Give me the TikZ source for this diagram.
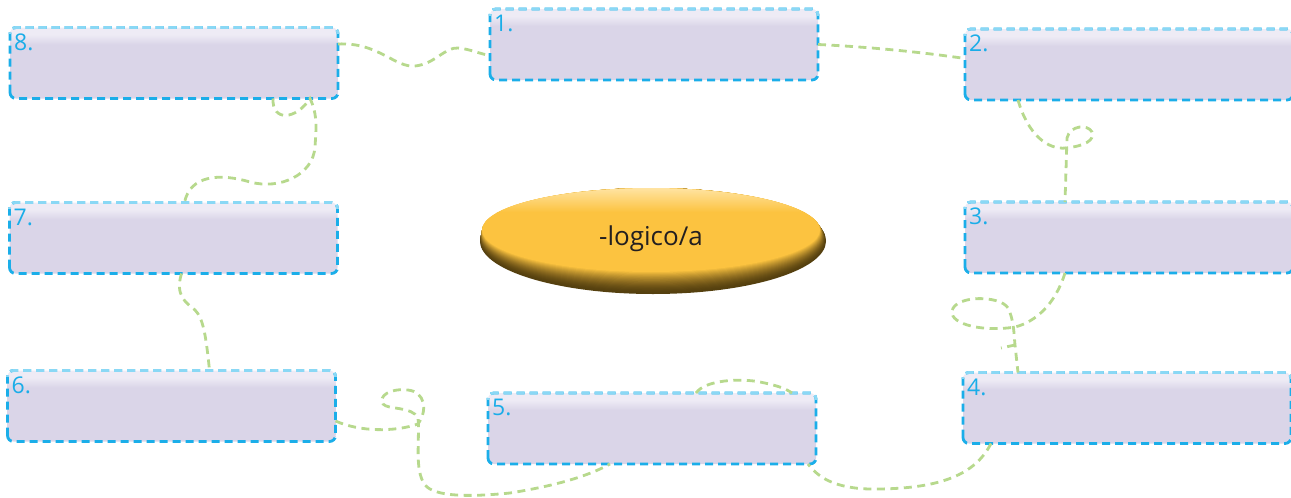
\documentclass[tikz,border=0pt]{standalone}
\usepackage{fontspec}
\setmainfont{Open Sans}
\usetikzlibrary{shapes.geometric}

\definecolor{boxfill}{HTML}{DAD5E8}
\definecolor{boxtop}{HTML}{EEEBF5}
\definecolor{rimblue}{HTML}{1BAEE9}
\definecolor{rimlight}{HTML}{8AD8F5}
\definecolor{numblue}{HTML}{1AADE8}
\definecolor{trailgreen}{HTML}{B7D98D}
\definecolor{hubyellow}{HTML}{FCC340}
\definecolor{hubbrown}{HTML}{55400F}
\definecolor{hubcream}{HTML}{FFE6AA}
\definecolor{hubtext}{HTML}{231F20}

\pgfdeclareverticalshading{gloss}{100bp}{color(0bp)=(boxfill); color(25bp)=(boxfill); color(63bp)=(boxfill); color(70bp)=(boxtop); color(75bp)=(boxtop); color(100bp)=(boxtop)}

\tikzset{
  blank/.style={rectangle, minimum width=328pt, minimum height=71pt, inner sep=0pt, outer sep=0pt, rounded corners=6pt, shade, shading=gloss},
  num/.style={text=numblue, font=\fontsize{23}{23}\selectfont, inner xsep=4pt, inner ysep=6pt},
  boxrim/.style={draw=rimblue, line width=2.8pt, dash pattern=on 8pt off 5pt, rounded corners=6pt},
  trail/.style={draw=trailgreen, line width=2.8pt, dash pattern=on 8pt off 5.5pt},
}

\begin{document}
\begin{tikzpicture}[x=1pt, y=-1pt]
    \useasboundingbox (0,0) rectangle (1291,498);
    \clip (0,0) rectangle (1291,498);

    %Centre oval
    \foreach \i in {0,...,20}{
      \pgfmathsetmacro\t{100*(\i/20)^1.6}
      \fill[hubyellow!\t!hubbrown] (653-0.1*\i, 241-0.55*\i) ellipse [x radius=173-0.2*\i, y radius=53-0.55*\i];
    }
    \begin{scope}
      \clip (651,230) ellipse [x radius=169, y radius=42];
      \shade[top color=hubcream, bottom color=hubyellow] (470,186) rectangle (840,212);
    \end{scope}
    \node[font=\fontsize{26}{26}\selectfont, text=hubtext] (hub) at (651,239) {-logico/a};

    %Top row
    \node[blank, label={[num, anchor=north west]north west:8.}] (b8) at (174,63) {};
    \node[blank, label={[num, anchor=north west]north west:1.}] (b1) at (654,44.5) {};
    \node[blank, label={[num, anchor=north west]north west:2.}] (b2) at (1129,64.5) {};

    %Middle row
    \node[blank, label={[num, anchor=north west]north west:7.}] (b7) at (173.5,238) {};
    \node[blank, label={[num, anchor=north west]north west:3.}] (b3) at (1129,237.5) {};

    %Bottom row
    \node[blank, label={[num, anchor=north west]north west:6.}] (b6) at (171.5,406) {};
    \node[blank, label={[num, anchor=north west]north west:5.}] (b5) at (652,428.5) {};
    \node[blank, label={[num, anchor=north west]north west:4.}] (b4) at (1127,408) {};

    %Dashed rims, lighter on top
    \foreach \n in {1,...,8}{
      \draw[boxrim] (b\n.south west) rectangle (b\n.north east);
      \begin{scope}
        \clip ([xshift=-5pt, yshift=5pt]b\n.north west) rectangle ([xshift=5pt, yshift=-6pt]b\n.north east);
        \draw[boxrim, draw=rimlight] (b\n.south west) rectangle (b\n.north east);
      \end{scope}
    }

    %Trails
    \draw[trail] ([yshift=19pt]b8.east) .. controls (378,42) and (395,68) .. (415,66) .. controls (435,64) and (445,47) .. (458,48) .. controls (470,49) and (480,54) .. ([yshift=-11pt]b1.west);
    \draw[trail] (b1.east) .. controls (870,47) and (920,52) .. ([yshift=6pt]b2.west);
    \draw[trail] ([xshift=-111pt]b2.south) .. controls (1028,135) and (1048,150) .. (1066,148) .. controls (1085,146) and (1095,140) .. (1092,132) .. controls (1088,124) and (1070,125) .. (1067,138) -- ([xshift=-64pt]b3.north);
    \draw[trail] ([xshift=-64pt]b3.south) .. controls (1055,305) and (1035,322) .. (1015,327) .. controls (985,332) and (950,325) .. (952,311) .. controls (955,295) and (1000,295) .. (1008,308) .. controls (1014,320) and (1014,335) .. (1015,345) coordinate (kink) -- ([xshift=-109pt]b4.north);
    \coordinate (tick) at (1001,348);
    \draw[trail] (kink) -- (tick);
    \draw[trail] ([xshift=-136pt]b4.south) .. controls (975,475) and (940,488) .. (880,489) .. controls (840,490) and (820,480) .. ([xshift=156pt]b5.south);
    \draw[trail] ([xshift=44pt]b5.north) .. controls (705,380) and (740,378) .. (760,382) .. controls (775,385) and (785,388) .. ([xshift=140pt]b5.north);
    \draw[trail] ([yshift=-15pt]b6.east) .. controls (360,432) and (395,432) .. (418,424) .. controls (428,410) and (425,392) .. (408,390) .. controls (390,388) and (378,396) .. (383,404) .. controls (388,410) and (412,406) .. (418,418) .. controls (420,440) and (414,470) .. (425,485) .. controls (435,497) and (470,497) .. (510,493) .. controls (560,485) and (590,475) .. ([xshift=-42pt]b5.south);
    \draw[trail] ([xshift=8pt]b7.south) .. controls (175,295) and (185,302) .. (195,310) .. controls (203,318) and (206,335) .. ([xshift=38pt]b6.north);
    \draw[trail] ([xshift=99pt]b8.south) .. controls (272,122) and (296,120) .. ([xshift=136pt]b8.south) .. controls (318,115) and (316,130) .. (315,147) .. controls (313,175) and (280,190) .. (250,182) .. controls (220,173) and (190,175) .. ([xshift=11pt]b7.north);
  \end{tikzpicture}
\end{document}
